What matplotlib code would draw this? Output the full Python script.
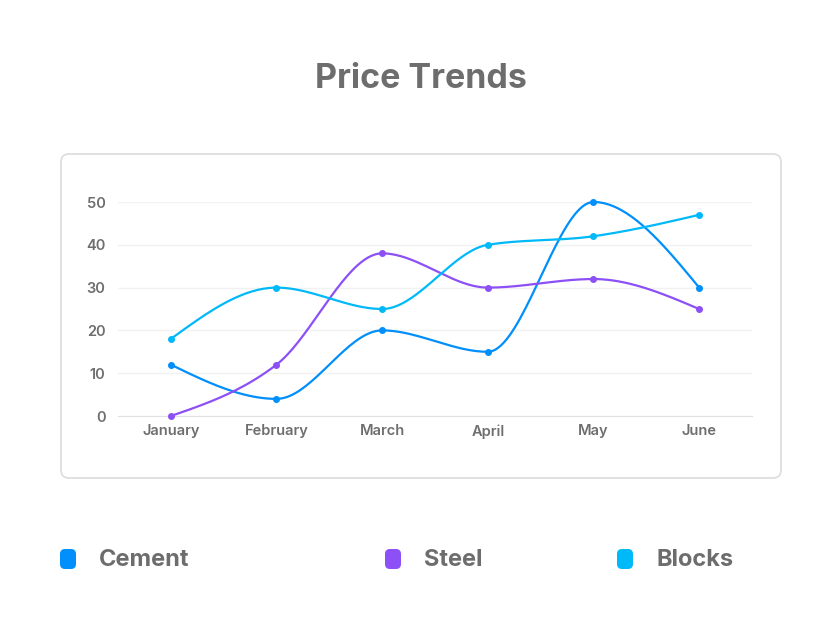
import numpy as np
import matplotlib.pyplot as plt
from matplotlib.patches import FancyBboxPatch

months = ['January', 'February', 'March', 'April', 'May', 'June']
cement = [12, 4, 20, 15, 50, 30]
steel = [0, 12, 38, 30, 32, 25]
blocks = [18, 30, 25, 40, 42, 47]
names = ['Cement', 'Steel', 'Blocks']
colors = ['#008ffb', '#8c50f6', '#00b9f9']
y_ticks = [0, 10, 20, 30, 40, 50]

txt = '#6d6d6d'


def monotone(x, y, n=40):
    # monotone cubic curve (like d3 curveMonotoneX)
    x = np.asarray(x, float)
    y = np.asarray(y, float)
    h = np.diff(x)
    s = np.diff(y) / h
    m = np.zeros(len(x))
    for i in range(1, len(x) - 1):
        p = (s[i - 1] * h[i] + s[i] * h[i - 1]) / (h[i - 1] + h[i])
        m[i] = (np.sign(s[i - 1]) + np.sign(s[i])) * min(abs(s[i - 1]), abs(s[i]), 0.5 * abs(p))
    m[0] = (3 * s[0] - m[1]) / 2
    m[-1] = (3 * s[-1] - m[-2]) / 2
    xs, ys = [], []
    for i in range(len(x) - 1):
        t = np.linspace(0, 1, n)
        dx = h[i] / 3
        p0, p3 = y[i], y[i + 1]
        p1, p2 = y[i] + dx * m[i], y[i + 1] - dx * m[i + 1]
        xs.append(x[i] + t * h[i])
        ys.append((1 - t) ** 3 * p0 + 3 * (1 - t) ** 2 * t * p1 + 3 * (1 - t) * t ** 2 * p2 + t ** 3 * p3)
    return np.concatenate(xs), np.concatenate(ys)


W, H = 840, 631
fig = plt.figure(figsize=(W / 100, H / 100), dpi=100)

# background overlay in pixel coords
bg = fig.add_axes([0, 0, 1, 1], zorder=0)
bg.set_xlim(0, W)
bg.set_ylim(H, 0)
bg.axis('off')
bg.add_patch(FancyBboxPatch((61, 154), 720, 324, boxstyle='round,pad=0,rounding_size=8',
                            fc='white', ec='#dcdcdc', lw=1.2))
bg.text(421, 79, 'Price Trends', ha='center', va='center', fontsize=24.5,
        fontweight='bold', color=txt, family='Inter')

leg_x = [68, 393, 625]
for lx, name, c in zip(leg_x, names, colors):
    bg.add_patch(FancyBboxPatch((lx - 8, 549), 16, 20, boxstyle='round,pad=0,rounding_size=5',
                                fc=c, ec='none'))
    bg.text(lx + 31, 560, name, ha='left', va='center', fontsize=17,
            fontweight='bold', color=txt, family='Inter')

ax = fig.add_axes([118 / W, 1 - 416 / H, (752 - 118) / W, 214 / H], zorder=1)
ax.patch.set_alpha(0)
x = np.arange(len(months))
for vals, c in zip([cement, steel, blocks], colors):
    sx, sy = monotone(x, vals)
    ax.plot(sx, sy, color=c, lw=1.6, clip_on=False, zorder=3)
    ax.plot(x, vals, 'o', color=c, ms=4, clip_on=False, zorder=4)

ax.set_xlim(-0.5, 5.5)
ax.set_ylim(0, 50)
ax.set_yticks(y_ticks)
ax.set_xticks(x)
ax.set_xticklabels(months)
ax.grid(axis='y', color='#f1f1f1', lw=1)
ax.set_axisbelow(True)
for sp in ['top', 'right', 'left']:
    ax.spines[sp].set_visible(False)
ax.spines['bottom'].set_color('#e0e0e0')
ax.tick_params(length=0, labelsize=10.5, labelcolor='#6e6e6e')
ax.tick_params(axis='y', pad=9)
ax.tick_params(axis='x', pad=6)
for lab in ax.get_xticklabels() + ax.get_yticklabels():
    lab.set_fontweight('semibold')
    lab.set_family('Inter')

fig.savefig('out.png', dpi=100)
